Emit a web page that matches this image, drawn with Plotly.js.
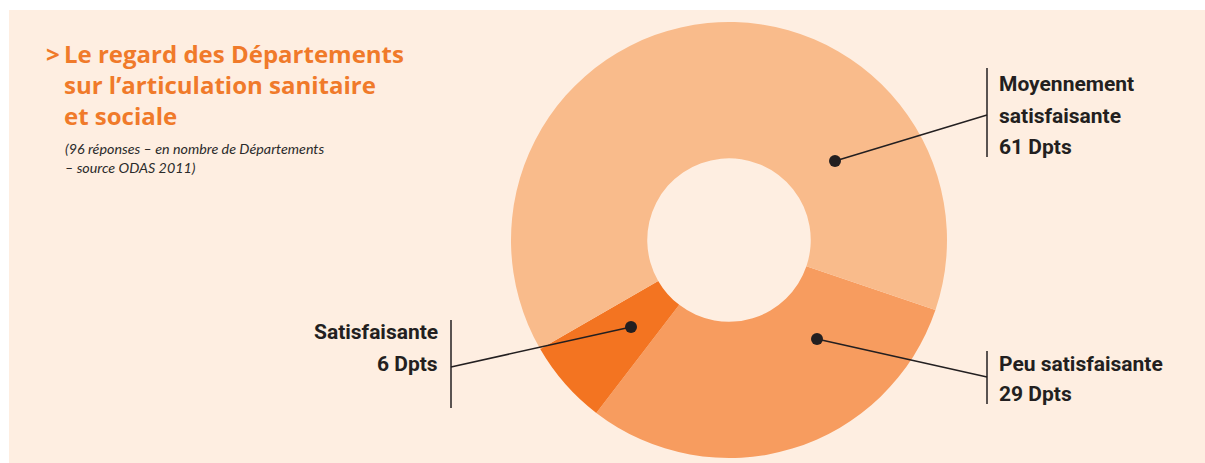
<!DOCTYPE html>
<html>
<head>
<meta charset="utf-8">
<script src="https://cdn.plot.ly/plotly-3.0.1.min.js"></script>
<style>html,body{margin:0;padding:0;background:#fff;}#chart{width:1205px;height:463px;}</style>
</head>
<body>
<div id="chart"></div>
<script>
// Data (order: clockwise starting from the right-hand boundary)
const categories = ["Peu satisfaisante", "Satisfaisante", "Moyennement satisfaisante"];
const values = [29, 6, 61];
const valueLabels = ["29 Dpts", "6 Dpts", "61 Dpts"];
const labelLines = [["Peu satisfaisante", "29 Dpts"], ["Satisfaisante", "6 Dpts"], ["Moyennement", "satisfaisante", "61 Dpts"]];
const colors = ["#f79c5f", "#f37421", "#f9bb8b"];

const W = 1205, H = 463;
const px = x => x / W;
const py = y => 1 - y / H;

const labelFont = {family: "Roboto, sans-serif", size: 21, color: "#231f20", weight: 700};
const ink = "#231f20";

const trace = {
  type: "pie",
  labels: categories,
  values: values,
  sort: false,
  direction: "clockwise",
  rotation: 108.75,
  hole: 0.375,
  marker: {colors: colors, line: {width: 0}},
  textinfo: "none",
  hoverinfo: "label+value",
  showlegend: false,
  domain: {x: [px(511), px(947)], y: [py(458), py(22)]}
};

function leader(dot, bar, barTop, barBottom) {
  return [
    {type: "line", xref: "paper", yref: "paper", x0: px(dot[0]), y0: py(dot[1]), x1: px(bar[0]), y1: py(bar[1]), line: {color: ink, width: 1.5}},
    {type: "line", xref: "paper", yref: "paper", x0: px(bar[0]), y0: py(barTop), x1: px(bar[0]), y1: py(barBottom), line: {color: ink, width: 1.5}},
    {type: "circle", xref: "paper", yref: "paper", x0: px(dot[0] - 6), x1: px(dot[0] + 6), y0: py(dot[1] - 6), y1: py(dot[1] + 6), fillcolor: ink, line: {width: 0}}
  ];
}

const shapes = [
  {type: "rect", xref: "paper", yref: "paper", x0: px(9), x1: 1, y0: 0, y1: py(10), fillcolor: "#feeee1", line: {width: 0}, layer: "below"}
].concat(
  leader([835, 161], [987, 115], 68, 157),
  leader([817, 339], [987, 377], 351, 404),
  leader([631, 327], [451, 367], 320, 408)
);

const titleFont = {family: "Open Sans, sans-serif", size: 24, color: "#f07a2a", weight: 700};

// label blocks: lines of text, x anchor pixel, side, first line top, line step
function labelBlock(lines, x, side, top, step) {
  return lines.map((t, i) => ({
    xref: "paper", yref: "paper", x: px(x), y: py(top + i * step),
    xanchor: side, yanchor: "top", align: side, showarrow: false, text: t, font: labelFont
  }));
}

const annotations = [
  {xref: "paper", yref: "paper", x: px(44), y: py(35), xanchor: "left", yanchor: "top", showarrow: false,
   text: ">", font: titleFont},
  {xref: "paper", yref: "paper", x: px(62), y: py(35), xanchor: "left", yanchor: "top", align: "left", showarrow: false,
   text: "Le regard des Départements<br>sur l’articulation sanitaire<br>et sociale", font: titleFont},
  {xref: "paper", yref: "paper", x: px(63), y: py(138), xanchor: "left", yanchor: "top", align: "left", showarrow: false,
   text: "<i>(96 réponses – en nombre de Départements<br>– source ODAS 2011)</i>",
   font: {family: "Lato, sans-serif", size: 14.3, color: "#2b2b2b"}}
].concat(
  labelBlock(labelLines[2], 997, "left", 70, 31.7),
  labelBlock(labelLines[0], 997, "left", 350, 30),
  labelBlock(labelLines[1], 440, "right", 318, 32.4)
);

const layout = {
  width: W, height: H,
  margin: {l: 0, r: 0, t: 0, b: 0},
  paper_bgcolor: "#ffffff",
  shapes: shapes,
  annotations: annotations,
  showlegend: false
};

Plotly.newPlot("chart", [trace], layout, {displayModeBar: false, staticPlot: true});
</script>
</body>
</html>
